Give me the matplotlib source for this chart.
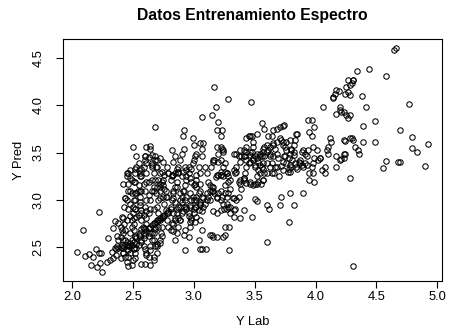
import numpy as np
import matplotlib
matplotlib.use("Agg")
import matplotlib.pyplot as plt

plt.rcParams['font.family'] = ['Liberation Sans', 'DejaVu Sans']

# lab reference vs. model prediction, training set
y_lab = [
    2.04, 2.09, 2.11, 2.14, 2.16, 2.17, 2.20, 2.21, 2.22, 2.24, 2.23, 2.25, 2.22, 2.29, 2.30, 2.31, 2.33, 2.34, 2.35, 2.35, 2.38,
    2.36, 2.37, 2.38, 2.40, 2.41, 2.42, 2.44, 2.43, 2.45, 2.41, 2.40, 2.45, 2.46, 2.46, 2.44, 2.42, 2.40, 2.47, 2.48, 2.49,
    2.49, 2.50, 2.50, 2.51, 2.49, 2.46, 2.45, 2.44, 2.43, 2.46, 2.45, 2.50, 2.46, 2.48, 2.49, 2.51, 2.52, 2.52, 2.53, 2.53,
    2.55, 2.55, 2.56, 2.55, 2.54, 2.53, 2.52, 2.52, 2.53, 2.51, 2.51, 2.52, 2.53, 2.51, 2.52, 2.52, 2.50, 2.49, 2.46, 2.45,
    2.43, 2.42,
    2.56, 2.57, 2.59, 2.60, 2.61, 2.63, 2.59, 2.57, 2.56, 2.56, 2.57, 2.59, 2.57, 2.58, 2.59, 2.57, 2.59, 2.60, 2.61, 2.63,
    2.60, 2.64, 2.64, 2.66, 2.64, 2.63, 2.61, 2.61, 2.63, 2.64, 2.61, 2.60, 2.63, 2.66, 2.67, 2.66, 2.67, 2.69, 2.70, 2.61,
    2.60, 2.64, 2.66, 2.66, 2.68, 2.70, 2.71, 2.70, 2.69, 2.71, 2.72, 2.74, 2.75, 2.74, 2.72, 2.70, 2.71, 2.70, 2.68, 2.67,
    2.67, 2.68, 2.67, 2.67, 2.70, 2.72, 2.73, 2.74, 2.72, 2.75, 2.77, 2.76, 2.75, 2.77, 2.75, 2.77, 2.68, 2.63, 2.64, 2.66,
    2.78, 2.79, 2.81, 2.82, 2.83, 2.82, 2.85, 2.83, 2.86, 2.87, 2.86, 2.85, 2.83, 2.82, 2.81, 2.79, 2.78, 2.79, 2.81, 2.83,
    2.85, 2.86, 2.87, 2.89, 2.90, 2.92, 2.93, 2.94, 2.94, 2.96, 2.97, 2.98, 3.00, 3.01, 3.02, 3.04, 3.02, 3.01, 3.00, 2.98,
    2.97, 2.96, 2.94, 2.93, 2.92, 2.90, 2.89, 2.87, 2.86, 2.85, 2.83, 2.92, 2.91, 2.92, 2.90, 2.89, 2.87, 2.90, 2.91, 2.93,
    2.94, 2.96, 2.98, 2.99, 3.00, 3.00, 3.01, 3.02, 3.05, 3.07, 3.07, 3.04, 3.05, 3.02, 2.99, 3.02, 3.05, 3.05, 3.07, 3.05,
    3.04, 3.02, 3.01, 3.04, 3.05, 2.93, 2.93, 2.92, 2.96, 2.97, 2.89, 2.98, 2.97, 2.99,
    3.07, 3.08, 3.09, 3.11, 3.12, 3.13, 3.15, 3.16, 3.17, 3.19, 3.20, 3.22, 3.23, 3.24, 3.25, 3.22, 3.19, 3.16, 3.13, 3.12,
    3.11, 3.09, 3.08, 3.07, 3.05, 3.07, 3.10, 3.07, 3.13, 3.15, 3.16, 3.19, 3.15, 3.14, 3.16, 3.17, 3.19, 3.20, 3.20, 3.22,
    3.23, 3.24, 3.24, 3.26, 3.27, 3.28, 3.30, 3.30, 3.28, 3.27, 3.27, 3.27, 3.28, 3.30, 3.30, 3.32, 3.33, 3.34, 3.33, 3.29,
    3.26, 3.24, 3.26, 3.29, 3.22, 3.20, 3.18, 3.15, 3.17, 3.18, 3.20, 3.23, 3.19, 3.22, 3.28, 3.22, 3.24, 3.26, 3.16, 3.22,
    3.26,
    3.33, 3.35, 3.37, 3.38, 3.39, 3.41, 3.42, 3.43, 3.45, 3.43, 3.42, 3.41, 3.38, 3.37, 3.34, 3.33, 3.35, 3.38, 3.39, 3.41,
    3.43, 3.46, 3.49, 3.50, 3.52, 3.53, 3.54, 3.56, 3.57, 3.58, 3.60, 3.61, 3.63, 3.58, 3.60, 3.57, 3.56, 3.53, 3.54, 3.52,
    3.50, 3.53, 3.55, 3.57, 3.58, 3.60, 3.43, 3.45, 3.46, 3.48, 3.49, 3.52, 3.56, 3.58, 3.47, 3.43, 3.48, 3.49, 3.50, 3.49,
    3.46, 3.50, 3.52, 3.48, 3.60, 3.62, 3.60, 3.37, 3.41, 3.38, 3.35, 3.33,
    3.61, 3.64, 3.63, 3.65, 3.67, 3.68, 3.69, 3.65, 3.64, 3.63, 3.64, 3.67, 3.68, 3.71, 3.72, 3.73, 3.75, 3.76, 3.74, 3.73,
    3.72, 3.73, 3.75, 3.76, 3.78, 3.79, 3.80, 3.82, 3.83, 3.84, 3.85, 3.82, 3.81, 3.80, 3.79, 3.78, 3.79, 3.83, 3.84, 3.86,
    3.87, 3.73, 3.74, 3.68, 3.66, 3.71, 3.72, 3.78, 3.79, 3.82, 3.65, 3.70, 3.77, 3.85,
    3.89, 3.90, 3.91, 3.93, 3.94, 3.94, 3.97, 3.99, 3.95, 3.97, 3.98, 3.95, 3.97, 3.98, 3.99, 4.01, 4.02, 4.04, 4.05, 3.99,
    3.98, 3.95, 3.93, 3.91, 3.90, 4.09, 4.10, 4.08, 4.08, 4.12, 4.13, 4.10, 4.06, 4.04, 3.87, 3.89, 4.14, 4.14, 3.90,
    4.16, 4.17, 4.19, 4.20, 4.20, 4.17, 4.21, 4.23, 4.24, 4.25, 4.27, 4.28, 4.30, 4.31, 4.31, 4.27, 4.28, 4.25, 4.27, 4.28,
    4.30, 4.31, 4.23, 4.24, 4.23, 4.24, 4.17, 4.17, 4.20, 4.21, 4.23, 4.28, 4.32, 4.35, 4.36, 4.34, 4.38, 4.39, 4.41, 4.39,
    4.28, 4.31,
    4.44, 4.49, 4.49, 4.55, 4.58, 4.58, 4.64, 4.66, 4.68, 4.69, 4.69, 4.77, 4.79, 4.79, 4.83, 4.90, 4.92,
]
y_pred = [
    2.45, 2.68, 2.41, 2.43, 2.31, 2.40, 2.48, 2.29, 2.44, 2.44, 2.34, 2.24, 2.87, 2.35, 2.60, 2.37, 2.45, 2.39, 2.49, 2.78, 2.76,
    2.42, 2.51, 2.58, 2.61, 2.68, 2.65, 2.68, 2.75, 2.79, 2.82, 2.72, 2.56, 2.47, 2.40, 2.40, 2.44, 2.50, 2.52, 2.65, 2.72,
    2.79, 2.86, 2.93, 3.00, 3.07, 3.09, 3.00, 3.02, 2.93, 3.17, 3.25, 3.56, 3.28, 3.32, 3.21, 3.19, 3.28, 3.33, 3.35, 3.46,
    3.39, 3.32, 3.25, 3.16, 3.10, 3.07, 3.00, 2.91, 2.82, 2.75, 2.68, 2.61, 2.54, 2.49, 2.44, 2.39, 2.37, 2.31, 2.30, 2.35,
    2.51, 2.58,
    3.28, 3.33, 3.35, 3.42, 3.28, 3.19, 3.17, 3.10, 3.03, 2.95, 2.89, 2.84, 2.79, 2.72, 2.65, 2.58, 2.52, 2.48, 2.44, 2.40,
    2.33, 2.47, 2.52, 2.58, 2.65, 2.70, 2.75, 2.81, 2.86, 2.91, 3.00, 2.93, 3.05, 3.10, 3.14, 3.21, 3.28, 3.35, 3.42, 3.56,
    3.46, 3.57, 3.35, 3.39, 3.46, 3.35, 3.21, 3.14, 3.07, 3.00, 3.14, 3.19, 3.21, 3.30, 3.28, 2.93, 2.86, 2.79, 2.72, 2.65,
    2.58, 2.51, 2.40, 2.37, 2.54, 2.58, 2.65, 2.72, 2.79, 2.82, 2.89, 2.96, 3.03, 3.10, 3.16, 3.03, 3.77, 3.45, 3.54, 3.47,
    3.35, 3.28, 3.21, 3.25, 3.26, 3.53, 3.46, 3.40, 3.33, 3.28, 3.19, 3.14, 3.07, 3.00, 2.93, 2.86, 2.79, 2.72, 2.68, 2.75,
    2.81, 2.86, 2.93, 3.00, 3.03, 3.10, 3.16, 3.21, 3.25, 3.28, 3.23, 3.19, 3.16, 3.17, 3.14, 3.07, 3.00, 2.93, 2.86, 2.81,
    2.77, 2.86, 2.93, 3.00, 2.93, 2.86, 2.79, 2.72, 2.65, 2.58, 2.67, 3.74, 3.67, 3.54, 3.49, 3.42, 3.35, 3.25, 3.30, 3.35,
    3.32, 3.35, 3.33, 3.39, 3.42, 3.58, 3.46, 3.49, 3.60, 3.54, 3.46, 3.35, 3.28, 3.26, 3.65, 3.21, 3.17, 3.09, 3.03, 2.96,
    2.89, 2.82, 2.77, 2.58, 2.48, 2.47, 2.68, 2.63, 2.61, 2.72, 2.79, 3.00, 2.93, 3.03,
    3.88, 3.60, 3.35, 3.28, 3.19, 3.16, 3.14, 3.10, 3.07, 3.02, 3.07, 3.00, 3.03, 2.96, 2.91, 2.89, 2.86, 2.88, 3.00, 3.03,
    3.00, 2.96, 2.93, 2.88, 2.79, 2.68, 2.48, 2.48, 2.63, 2.63, 2.61, 2.61, 3.10, 3.35, 3.40, 3.42, 3.56, 3.49, 3.40, 3.42,
    3.54, 3.53, 3.35, 3.39, 3.28, 3.25, 3.21, 3.12, 3.07, 3.03, 2.96, 2.91, 2.93, 2.86, 2.93, 3.02, 3.02, 2.91, 2.82, 2.72,
    2.72, 2.61, 2.63, 2.47, 3.26, 3.26, 3.24, 3.90, 4.19, 3.98, 3.82, 3.74, 3.74, 3.67, 4.07, 3.56, 3.51, 3.07, 3.42, 3.26,
    3.30,
    3.49, 3.49, 3.46, 3.53, 3.46, 3.53, 3.46, 3.42, 3.39, 3.35, 3.28, 3.21, 3.17, 3.19, 3.28, 3.32, 3.35, 3.21, 3.12, 3.23,
    3.18, 3.17, 3.16, 3.35, 3.44, 3.40, 3.49, 3.46, 3.51, 3.56, 3.58, 3.53, 3.49, 3.46, 3.39, 3.39, 3.35, 3.32, 3.28, 3.25,
    3.17, 3.19, 3.17, 3.21, 3.28, 3.28, 3.65, 3.67, 3.67, 3.68, 3.61, 3.70, 3.81, 3.75, 4.03, 3.56, 3.51, 3.56, 3.46, 3.42,
    3.51, 3.01, 2.99, 2.82, 2.95, 2.91, 2.56, 3.03, 2.89, 2.81, 3.00, 2.89,
    3.67, 3.68, 3.56, 3.60, 3.54, 3.49, 3.44, 3.46, 3.39, 3.35, 3.28, 3.35, 3.75, 3.77, 3.63, 3.61, 3.56, 3.53, 3.46, 3.40,
    3.36, 3.32, 3.46, 3.39, 3.44, 3.49, 3.54, 3.58, 3.63, 3.70, 3.70, 3.51, 3.42, 3.35, 3.30, 3.33, 3.37, 3.39, 3.35, 3.40,
    3.42, 3.78, 3.79, 3.35, 3.28, 2.95, 3.03, 2.77, 3.07, 2.95, 3.74, 3.25, 3.30, 3.33,
    3.51, 3.53, 3.49, 3.46, 3.53, 3.84, 3.84, 3.77, 3.72, 3.67, 3.56, 3.28, 3.35, 3.39, 3.44, 3.53, 3.42, 3.44, 3.32, 3.19,
    3.28, 3.21, 3.37, 3.39, 3.07, 3.53, 3.49, 3.35, 3.29, 3.65, 3.61, 3.56, 3.98, 3.44, 3.39, 3.37, 4.09, 4.08, 3.35,
    4.12, 4.16, 4.15, 3.98, 3.95, 3.91, 3.93, 3.93, 4.12, 4.19, 4.26, 4.21, 4.23, 4.26, 4.26, 4.14, 4.11, 3.90, 3.86, 3.90,
    3.65, 3.63, 3.63, 3.62, 3.49, 3.48, 3.46, 3.35, 3.42, 3.43, 3.44, 3.65, 3.56, 3.53, 3.48, 4.36, 4.10, 3.78, 3.98, 3.61,
    3.23, 2.30,
    4.38, 3.83, 3.61, 3.34, 3.41, 4.31, 4.58, 4.60, 3.40, 3.40, 3.74, 4.01, 3.66, 3.55, 3.51, 3.36, 3.59,
]

# crowded part of the cloud along the diagonal
y_lab_core = [
    2.40, 2.42, 2.45, 2.46, 2.49, 2.51, 2.52, 2.55, 2.56, 2.57, 2.59, 2.60, 2.61, 2.59, 2.57, 2.55, 2.53, 2.51, 2.48, 2.64,
    2.67, 2.70, 2.72, 2.75, 2.78, 2.81, 2.63, 2.66, 2.68, 2.71, 2.74, 2.72, 2.70, 2.44, 2.41, 2.38, 2.36, 2.37, 2.34, 2.42,
    2.48, 2.51, 2.55, 2.57, 2.61, 2.67, 2.46, 2.52, 2.70, 2.61, 2.57, 2.64,
    2.49, 2.53, 2.56, 2.60, 2.63, 2.66, 2.68, 2.71, 2.74, 2.76, 2.79, 2.48, 2.45, 2.42,
    2.83, 2.86, 2.89, 2.91, 2.94, 2.97, 3.00, 3.02, 3.05, 3.08, 3.11, 3.13, 3.16, 2.82, 2.85, 2.87, 2.83, 2.85, 2.90, 3.19,
    3.22, 3.24, 3.27, 3.28, 3.26, 3.22, 3.19,
    3.43, 3.46, 3.49, 3.52, 3.54, 3.57, 3.60, 3.63, 3.46, 3.50, 3.41, 3.38, 3.54, 3.57, 3.65, 3.68, 3.71, 3.73, 3.76, 3.79,
    3.80, 3.82, 3.35, 3.41, 3.46, 3.52, 3.57,
    2.60, 2.61, 2.66, 2.68, 2.72, 2.75, 2.45, 2.48, 2.52, 2.57, 2.61, 2.68, 2.72, 2.76, 2.79, 2.48, 2.52, 2.56, 2.60, 2.67,
    2.72, 2.76, 2.44, 2.48, 2.56, 2.64, 2.72, 2.78, 2.42,
    2.83, 2.86, 2.89, 2.91, 2.94, 2.97, 3.00, 3.02, 3.05, 2.85, 2.82, 2.87, 2.96, 2.98,
]
y_pred_core = [
    2.39, 2.44, 2.48, 2.51, 2.53, 2.56, 2.62, 2.63, 2.65, 2.69, 2.70, 2.63, 2.67, 2.60, 2.56, 2.53, 2.49, 2.48, 2.44, 2.72,
    2.76, 2.77, 2.81, 2.83, 2.86, 2.90, 2.62, 2.65, 2.69, 2.72, 2.62, 2.55, 2.51, 2.58, 2.53, 2.49, 2.48, 2.62, 2.70, 2.81,
    2.83, 2.81, 2.84, 2.86, 2.88, 2.90, 2.91, 2.90, 2.44, 2.42, 2.33, 2.32,
    2.58, 2.60, 2.62, 2.69, 2.70, 2.74, 2.76, 2.79, 2.81, 2.84, 2.88, 2.55, 2.53, 2.49,
    3.10, 3.14, 3.07, 3.10, 3.03, 3.07, 3.00, 3.03, 2.98, 3.02, 3.07, 3.10, 3.14, 3.26, 3.28, 3.30, 3.02, 2.98, 2.98, 3.26,
    3.30, 3.25, 3.28, 3.19, 3.16, 3.10, 3.03,
    3.51, 3.47, 3.44, 3.49, 3.46, 3.54, 3.51, 3.46, 3.40, 3.37, 3.46, 3.40, 3.37, 3.33, 3.58, 3.61, 3.65, 3.58, 3.61, 3.63,
    3.53, 3.47, 3.30, 3.23, 3.19, 3.17, 3.21,
    3.46, 3.39, 3.37, 3.42, 3.44, 3.40, 3.28, 3.23, 3.19, 3.25, 3.19, 3.21, 3.17, 3.26, 3.28, 3.10, 3.07, 3.09, 3.10, 3.10,
    3.09, 3.12, 3.02, 2.96, 2.98, 3.00, 3.02, 3.03, 3.17,
    2.86, 2.90, 2.93, 2.88, 2.91, 2.95, 2.90, 2.93, 2.95, 2.79, 2.76, 2.81, 2.83, 2.79,
]

assert len(y_lab) == len(y_pred) and len(y_lab_core) == len(y_pred_core)
x = np.array(y_lab + y_lab_core)
y = np.array(y_pred + y_pred_core)

fig = plt.figure(figsize=(4.49, 3.33), dpi=100)
ax = fig.add_axes([0.1397, 0.156, 0.844, 0.726])

ax.plot(x, y, linestyle='none', marker='o', markersize=3.9,
        markerfacecolor='none', markeredgecolor='black', markeredgewidth=0.75)

# R-style 4% padding around the data range
def pad(v):
    r = v.max() - v.min()
    return v.min() - 0.04 * r, v.max() + 0.04 * r

ax.set_xlim(*pad(x))
ax.set_ylim(*pad(y))
xt = np.arange(2.0, 5.01, 0.5)
yt = np.arange(2.5, 4.51, 0.5)
ax.set_xticks(xt)
ax.set_yticks(yt)
ax.set_xticklabels([f"{v:.1f}" for v in xt])
ax.set_yticklabels([f"{v:.1f}" for v in yt], rotation=90, va='center')
ax.tick_params(direction='out', length=5, width=0.8, labelsize=9.3)
ax.tick_params(axis='x', pad=2.5)
ax.tick_params(axis='y', pad=8)
for s in ax.spines.values():
    s.set_linewidth(0.8)

ax.set_xlabel("Y Lab", fontsize=9.3)
ax.set_ylabel("Y Pred", fontsize=9.3)
ax.xaxis.label.set_va('center')
ax.yaxis.label.set_va('center')
ax.xaxis.set_label_coords(0.5, -0.170)
ax.yaxis.set_label_coords(-0.1145, 0.5)
ax.set_title("Datos Entrenamiento Espectro", fontsize=11.3, fontweight='bold', y=1.0, pad=14)

fig.savefig("out.png", dpi=100)
